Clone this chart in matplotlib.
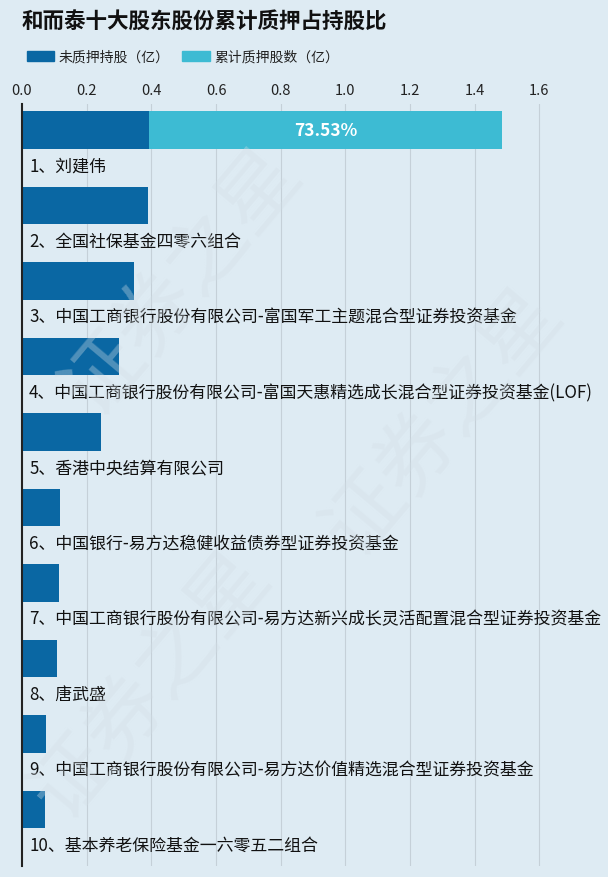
import matplotlib
matplotlib.use("Agg")
import matplotlib.pyplot as plt
from matplotlib.patches import Patch

plt.rcParams['font.family'] = ['Noto Sans CJK SC', 'DejaVu Sans']

title = "和而泰十大股东股份累计质押占持股比"
legend_labels = ["未质押持股（亿）", "累计质押股数（亿）"]
holders = [
    "1、刘建伟",
    "2、全国社保基金四零六组合",
    "3、中国工商银行股份有限公司-富国军工主题混合型证券投资基金",
    "4、中国工商银行股份有限公司-富国天惠精选成长混合型证券投资基金(LOF)",
    "5、香港中央结算有限公司",
    "6、中国银行-易方达稳健收益债券型证券投资基金",
    "7、中国工商银行股份有限公司-易方达新兴成长灵活配置混合型证券投资基金",
    "8、唐武盛",
    "9、中国工商银行股份有限公司-易方达价值精选混合型证券投资基金",
    "10、基本养老保险基金一六零五二组合",
]
unpledged = [0.393, 0.389, 0.345, 0.300, 0.243, 0.117, 0.114, 0.108, 0.074, 0.070]
pledged = [1.091, 0, 0, 0, 0, 0, 0, 0, 0, 0]
pledge_pct = ["73.53%", "", "", "", "", "", "", "", "", ""]
xticks = [0.0, 0.2, 0.4, 0.6, 0.8, 1.0, 1.2, 1.4, 1.6]

dark = "#0a67a3"
light = "#3dbbd3"
bg = "#deebf3"

W, H = 608, 878
fig = plt.figure(figsize=(W / 100, H / 100), dpi=100, facecolor=bg)
ax = fig.add_axes([22 / W, 1 - 867 / H, 582 / W, (867 - 105) / H])
ax.set_facecolor(bg)

# faint watermark
for (wx, wy) in [(0.30, 0.68), (0.25, 0.22), (0.73, 0.52)]:
    fig.text(wx, wy, "证券之星", fontsize=58, color="#d3dee6", alpha=0.35,
             rotation=50, ha="center", va="center", zorder=0)

ys = list(range(len(holders)))
ax.barh(ys, unpledged, height=0.5, color=dark, zorder=3)
ax.barh(ys, pledged, left=unpledged, height=0.5, color=light, zorder=3)

for y, u, p, s in zip(ys, unpledged, pledged, pledge_pct):
    if s:
        ax.text(u + p / 2, y, s, color="white", fontsize=12.5, fontweight="bold",
                ha="center", va="center", zorder=4)

for y, name in zip(ys, holders):
    ax.text(0.022, y + 0.47, name, fontsize=12.2, color="#111111", ha="left",
            va="center", zorder=4)

ax.set_xlim(0, 1.8)
ax.set_ylim(9.75, -0.345)
ax.xaxis.tick_top()
ax.set_xticks(xticks)
ax.set_xticklabels([f"{t:.1f}" for t in xticks], fontsize=10.5, color="#222222")
ax.tick_params(axis="x", length=0, pad=5)
ax.set_yticks([])
for t in xticks[1:]:
    ax.axvline(t, color="#c5d0d8", lw=0.8, zorder=1)
for s in ["top", "right", "bottom"]:
    ax.spines[s].set_visible(False)
ax.spines["left"].set_color("#222222")
ax.spines["left"].set_linewidth(1.5)
ax.spines["left"].set_zorder(5)

fig.text(22 / W, 1 - 22 / H, title, fontsize=15.5, fontweight="bold",
         color="#111111", ha="left", va="center")

handles = [Patch(color=dark), Patch(color=light)]
fig.legend(handles, legend_labels, loc="center left",
           bbox_to_anchor=(14 / W, 1 - 58 / H), ncol=2, frameon=False,
           fontsize=10, handlelength=2.0, handleheight=0.8, handletextpad=0.3,
           columnspacing=0.9, labelcolor="#222222")

fig.savefig("out.png", dpi=100, facecolor=bg)
